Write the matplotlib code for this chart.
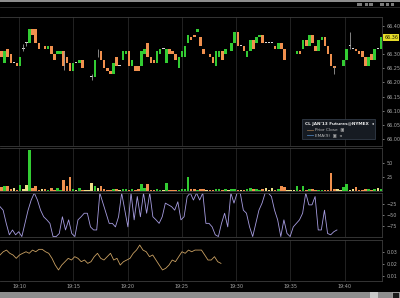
import matplotlib
matplotlib.use("Agg")
import matplotlib.pyplot as plt
from matplotlib.patches import Rectangle
import numpy as np

# 15s candles, CL JAN'13
opens = [66.31, 66.27, 66.32, 66.30, 66.27, 66.27, 66.26, 66.32, 66.34, 66.34,
         66.39, 66.39, 66.34, 66.31, 66.33, 66.32, 66.33, 66.30, 66.30, 66.30,
         66.31, 66.29, 66.27, 66.24, 66.27, 66.27, 66.28, 66.25, 66.25, 66.22,
         66.22, 66.30, 66.31, 66.28, 66.25, 66.24, 66.23, 66.29, 66.26, 66.28,
         66.30, 66.31, 66.26, 66.26, 66.26, 66.26, 66.30, 66.34, 66.29, 66.28,
         66.27, 66.30, 66.32, 66.27, 66.32, 66.31, 66.30, 66.25, 66.29, 66.29,
         66.34, 66.36, 66.37, 66.38, 66.36,
         66.32, 66.30, 66.30, 66.29, 66.26, 66.29, 66.31, 66.30, 66.30, 66.31,
         66.34, 66.38, 66.33, 66.33, 66.29, 66.31, 66.35, 66.34, 66.36, 66.37,
         66.34, 66.34, 66.34, 66.33, 66.32, 66.34, 66.32, 66.30, 66.30, 66.30,
         66.30, 66.31, 66.32, 66.35, 66.33, 66.37, 66.33, 66.31, 66.35, 66.36,
         66.33, 66.30, 66.26, 66.25, 66.25, 66.26, 66.28, 66.33, 66.32, 66.32,
         66.31, 66.31, 66.29, 66.26, 66.30, 66.28, 66.32, 66.32]
closes = [66.29, 66.31, 66.29, 66.27, 66.27, 66.26, 66.29, 66.32, 66.34, 66.39,
          66.37, 66.34, 66.32, 66.31, 66.32, 66.33, 66.30, 66.28, 66.31, 66.31,
          66.26, 66.27, 66.24, 66.27, 66.27, 66.28, 66.25, 66.25, 66.25, 66.22,
          66.28, 66.30, 66.28, 66.25, 66.24, 66.23, 66.27, 66.26, 66.26, 66.31,
          66.31, 66.26, 66.28, 66.24, 66.24, 66.31, 66.32, 66.29, 66.27, 66.27,
          66.31, 66.32, 66.32, 66.32, 66.30, 66.30, 66.28, 66.29, 66.31, 66.33,
          66.37, 66.35, 66.36, 66.39, 66.33,
          66.30, 66.30, 66.29, 66.27, 66.31, 66.31, 66.28, 66.32, 66.30, 66.34,
          66.38, 66.33, 66.33, 66.31, 66.31, 66.35, 66.32, 66.36, 66.37, 66.34,
          66.34, 66.34, 66.34, 66.32, 66.34, 66.32, 66.28, 66.30, 66.30, 66.30,
          66.31, 66.30, 66.35, 66.33, 66.37, 66.34, 66.31, 66.35, 66.36, 66.33,
          66.30, 66.26, 66.25, 66.25, 66.25, 66.28, 66.32, 66.33, 66.32, 66.31,
          66.30, 66.29, 66.26, 66.29, 66.28, 66.32, 66.32, 66.36]
# (bar index, low, high) for the visible doji wicks
wicks = [(7, 66.31, 66.335), (8, 66.33, 66.345), (20, 66.245, 66.31),
         (29, 66.21, 66.23), (31, 66.29, 66.32), (107, 66.23, 66.26),
         (112, 66.32, 66.38)]
volumes = [7, 8, 8, 3, 5, 2, 10, 4, 10, 73, 6, 9, 2, 4, 4, 2, 6, 2, 6, 2,
           19, 8, 24, 4, 1, 5, 2, 2, 1, 14, 8, 5, 8, 3, 2, 2, 4, 4, 1, 4,
           4, 2, 4, 2, 4, 12, 6, 12, 2, 2, 4, 2, 1, 14, 2, 2, 2, 2, 3, 4,
           25, 4, 4, 2, 4,
           3, 2, 2, 2, 4, 3, 2, 3, 1, 3, 3, 2, 1, 2, 3, 6, 3, 3, 2, 3,
           5, 2, 5, 2, 3, 8, 7, 2, 2, 1, 8, 2, 8, 2, 3, 4, 2, 2, 2, 2,
           2, 32, 3, 4, 2, 7, 12, 2, 3, 7, 2, 2, 3, 4, 2, 3, 5, 4]
williams = [-31, -39, -69, -95, -84, -95, -88, -99, -69, -39,
            -16, 0, -16, -39, -54, -61, -69, -99, -99, -92,
            -54, -84, -61, -92, -99, -61, -54, -46, -46, -77,
            -84, -84, 0, -23, -46, -69, -69, -77, -54, 0,
            -39, -77, 0, -61, -8, -54, 0, -46, 0, -54,
            -61, -69, -54, -23, -27, -31, -39, -20, -61, -54,
            -8, 0, -16, 0, -16, 0, -69,
            -69, -77, -95, -99, -69, -46, -77, 0, -23, 0,
            0, -39, -46, -77, -99, -69, -39, -23, 0, 0,
            -8, -39, -61, -99, -61, -92, -99, -77, -69, -61,
            -46, 0, -27, -27, -8, -84, -84, -39, -92, -95,
            -88, -84]
lower = [0.0273, 0.0300, 0.0314, 0.0287, 0.0273, 0.0245, 0.0273, 0.0287, 0.0300, 0.0287,
         0.0314, 0.0300, 0.0320, 0.0320, 0.0300, 0.0287, 0.0245, 0.0189, 0.0148, 0.0189,
         0.0217, 0.0245, 0.0231, 0.0259, 0.0245, 0.0217, 0.0231, 0.0203, 0.0217, 0.0259,
         0.0287, 0.0245, 0.0231, 0.0259, 0.0287, 0.0231, 0.0245, 0.0189, 0.0217, 0.0231,
         0.0245, 0.0287, 0.0314, 0.0356, 0.0314, 0.0300, 0.0259, 0.0273, 0.0231, 0.0189,
         0.0148, 0.0162, 0.0189, 0.0231, 0.0217, 0.0259, 0.0300, 0.0287, 0.0314, 0.0300,
         0.0314, 0.0314, 0.0314, 0.0273, 0.0231, 0.0231, 0.0259, 0.0217, 0.0203]
price_ticks = [66.00, 66.05, 66.10, 66.15, 66.20, 66.25, 66.30, 66.40]
time_ticks = [10, 15, 20, 25, 30, 35, 40]
time_labels = ['19:10', '19:15', '19:20', '19:25', '19:30', '19:35', '19:40']

opens = np.array(opens)
closes = np.array(closes)
# minutes after 19:00
bar_t = np.linspace(8.39, 43.33, len(closes))
wr_t = np.linspace(8.25, 39.28, len(williams))
low_t = np.linspace(8.25, 28.6, len(lower))

GREEN = '#33cc33'
ORANGE = '#f0904e'
FLAT = '#d8d8d8'
TXT = '#a8a8a8'
EDGE = '#3c3c3c'

fig = plt.figure(figsize=(4, 2.98), dpi=100, facecolor='black')

def px_axes(top, bottom):
    return fig.add_axes([0, 1 - bottom / 298, 382 / 400, (bottom - top) / 298])

ax_p = px_axes(17, 146)
ax_v = px_axes(148, 191)
ax_w = px_axes(193, 237)
ax_l = px_axes(240, 281)

for ax in (ax_p, ax_v, ax_w, ax_l):
    ax.set_facecolor('black')
    ax.set_xlim(8.25, 43.43)
    ax.set_xticks(time_ticks)
    ax.grid(axis='x', color='#282828', lw=0.6)
    ax.set_axisbelow(True)
    ax.yaxis.tick_right()
    ax.tick_params(axis='y', colors=TXT, labelsize=3.5, length=1.5, width=0.5, pad=1.5)
    ax.tick_params(axis='x', length=0)
    for s in ax.spines.values():
        s.set_color(EDGE)
        s.set_linewidth(0.6)
    ax.spines['left'].set_visible(False)
    if ax is not ax_l:
        ax.set_xticklabels([])

# candles
up = closes > opens
down = closes < opens
ccol = np.where(up, GREEN, np.where(down, ORANGE, FLAT))
body_lo = np.minimum(opens, closes)
body_h = np.maximum(np.abs(closes - opens), 0.0025)
for i, lo, hi in wicks:
    ax_p.vlines(bar_t[i], lo, hi, color='#9a9a9a', lw=0.6)
ax_p.bar(bar_t, body_h, bottom=body_lo, width=0.235, color=ccol, linewidth=0)
ax_p.set_ylim(65.975, 66.432)
ax_p.set_yticks(price_ticks)
ax_p.yaxis.set_major_formatter(matplotlib.ticker.FormatStrFormatter('%.2f'))
# last price marker on the axis
ax_p.text(1.006, (closes[-1] - 65.975) / (66.432 - 65.975), '%.2f' % closes[-1],
          transform=ax_p.transAxes, fontsize=3.5, color='#202000', va='center', ha='left',
          bbox=dict(boxstyle='square,pad=0.2', fc='#e6dc2a', ec='none'))

# volume
vcol = np.where(up, GREEN, np.where(down, ORANGE, '#eee08a'))
ax_v.bar(bar_t, volumes, width=0.235, color=vcol, linewidth=0)
ax_v.set_ylim(0, 76)
ax_v.set_yticks([25, 50])

# williams %R
ax_w.plot(wr_t, williams, color='#a69ce0', lw=0.6)
ax_w.set_ylim(-100, 0)
ax_w.set_yticks([-25, -50, -75])

# lower study
ax_l.plot(low_t, lower, color='#c9a062', lw=0.6)
ax_l.set_ylim(0.0056, 0.0398)
ax_l.set_yticks([0.01, 0.02, 0.03])
ax_l.set_xticklabels(time_labels)
ax_l.tick_params(axis='x', colors=TXT, labelsize=3.5, pad=2.5)

# legend box
fig.add_artist(Rectangle((302 / 400, 1 - 139 / 298), 73 / 400, 20 / 298,
                         transform=fig.transFigure, fc='#161b22', ec='#3a4452', lw=0.5))
fig.text(305 / 400, 1 - 123.5 / 298, "CL JAN'13 Futures@NYMEX  \u25c2", fontsize=3.1,
         color='#e8e8e8', weight='bold', va='center')
fig.add_artist(plt.Line2D([307 / 400, 313 / 400], [1 - 129.5 / 298] * 2,
                          transform=fig.transFigure, color='#8a6a4a', lw=0.6))
fig.text(315 / 400, 1 - 129.5 / 298, 'Prior Close  \u25a3', fontsize=3.1,
         color='#b8b8b8', va='center')
fig.add_artist(plt.Line2D([307 / 400, 313 / 400], [1 - 135 / 298] * 2,
                          transform=fig.transFigure, color='#4a7ab0', lw=0.6))
fig.text(315 / 400, 1 - 135 / 298, 'EMA(9)  \u25a3  \u25c2', fontsize=3.1,
         color='#b8b8b8', va='center')

# window chrome: top strip, header line, bottom scroll bar
fig.add_artist(Rectangle((0, 1 - 1.5 / 298), 1, 1.5 / 298, transform=fig.transFigure,
                         fc='#8c8c8c', ec='none'))
fig.add_artist(plt.Line2D([0, 1], [1 - 7 / 298] * 2, transform=fig.transFigure,
                          color='#2e2e2e', lw=0.6))
for x0, w in [(357, 5), (365, 3), (369, 4), (380, 4), (386, 3), (391, 3)]:
    fig.add_artist(Rectangle((x0 / 400, 1 - 6 / 298), w / 400, 3 / 298,
                             transform=fig.transFigure, fc='#7a7a7a', ec='none'))
fig.add_artist(Rectangle((0, 0), 1, 6.5 / 298, transform=fig.transFigure,
                         fc='#8e8e8e', ec='none'))
fig.add_artist(Rectangle((370 / 400, 0), 8 / 400, 6.5 / 298, transform=fig.transFigure,
                         fc='#c8c8c8', ec='none'))
fig.add_artist(Rectangle((392 / 400, 0.3 / 298), 7 / 400, 6 / 298, transform=fig.transFigure,
                         fc='#1a1a1a', ec='#cccccc', lw=0.4))

fig.savefig('out.png', dpi=100, facecolor='black')
